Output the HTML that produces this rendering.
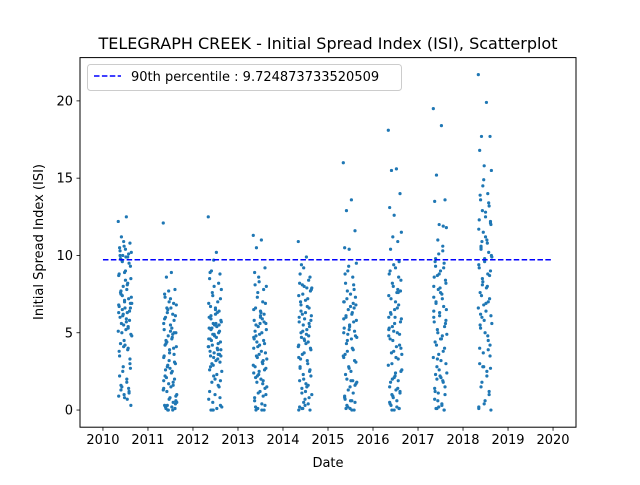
<!DOCTYPE html>
<html><head><meta charset="utf-8"><style>
body{margin:0;background:#fff;font-family:"Liberation Sans","DejaVu Sans",sans-serif}
svg text{font-family:"DejaVu Sans","Liberation Sans",sans-serif;fill:#000}
</style></head><body>
<svg id="chart" width="640" height="480">
<text x="328" y="49" font-size="16" text-anchor="middle">TELEGRAPH CREEK - Initial Spread Index (ISI), Scatterplot</text>
<g id="plot"></g>
<text x="328" y="467" font-size="13" text-anchor="middle">Date</text>
<text transform="translate(43,242) rotate(-90)" font-size="13" text-anchor="middle">Initial Spread Index (ISI)</text>
</svg>
<script>
const xTicks=[2010,2011,2012,2013,2014,2015,2016,2017,2018,2019,2020];
const yTicks=[0,5,10,15,20];
const threshold=9.724873733520509;
const years=[2010,2011,2012,2013,2014,2015,2016,2017,2018];
const fr=[0.34,0.52,0.41,0.60,0.37,0.47,0.63,0.44,0.55,0.39,0.58,0.50,0.36,0.62,0.45,0.53,0.40,0.57,0.48,0.35,0.61,0.43,0.54,0.38,0.59,0.46,0.51,0.42,0.64,0.49,0.56,0.37,0.60,0.44,0.53,0.40,0.58,0.47,0.35,0.62,0.50,0.42,0.55,0.39,0.61,0.45,0.52,0.36,0.57,0.48];
const fr2=[0.46,0.38,0.57,0.43,0.61,0.35,0.50,0.54,0.40,0.63,0.48,0.36,0.59,0.44,0.52,0.41,0.56,0.34,0.62,0.47,0.39,0.55,0.60,0.45,0.37,0.53,0.42,0.58,0.49,0.35,0.64,0.43,0.51,0.38,0.56,0.46,0.61,0.40,0.54,0.48,0.36,0.59,0.44,0.57,0.41,0.50,0.63,0.39,0.53,0.47];
const v2010=[12.2,12.5,11.2,10.8,10.5,10.6,10.2,10.0,9.9,9.8,9.5,9.0,8.8,8.5,8.0,7.8,7.5,7.2,7.0,6.8,6.6,6.5,6.3,6.0,5.8,5.5,5.2,5.0,4.8,4.2,4.0,3.5,3.0,2.5,2.0,1.6,1.2,1.0,0.9,0.3,10.4,9.7,8.2,7.6,6.9,6.2,5.9,3.8,1.4,0.8];
const w2010=[10.9,10.3,10.1,9.6,9.3,8.7,8.4,8.1,7.7,7.3,7.1,6.7,6.4,6.1,5.7,5.6,5.3,5.1,4.9,4.5,4.3,3.9,3.3,2.8,2.2,1.8,1.5,1.1,6.6,6.3,6.9,7.4,9.9,10.0,5.4,4.1,2.7,1.3,0.7,8.9];
const v2011=[12.1,8.9,8.6,7.8,7.5,7.0,6.8,6.5,6.2,6.0,5.8,5.5,5.2,5.0,4.8,4.6,4.3,4.0,3.7,3.4,3.0,2.8,2.5,2.2,2.0,1.7,1.5,1.2,1.0,0.8,0.5,0.3,0.1,0.0,0.2,0.1,5.0,3.2,1.9,0.6,7.2,6.6,4.9,2.6,0.4,0.0];
const w2011=[7.7,7.3,6.9,6.3,6.1,5.6,5.1,4.7,4.5,4.1,3.9,3.5,3.1,2.9,2.4,2.1,1.6,1.3,0.9,0.7,0.2,0.0,0.1,0.0,5.9,5.3,4.4,3.6,2.7,1.4,0.5,0.3,6.6,4.2,1.8];
const v2012=[12.5,10.2,9.0,8.8,8.5,8.0,7.8,7.4,7.0,6.7,6.4,6.2,6.0,5.8,5.6,5.4,5.2,5.0,4.8,4.6,4.4,4.2,4.0,3.8,3.6,3.4,3.2,3.0,2.5,2.0,1.6,1.2,0.8,0.5,0.1,0.0,5.5,4.9,4.1,3.5,6.5,5.3,3.9,2.8,0.3,0.0];
const w2012=[9.7,8.9,8.2,7.6,7.2,6.9,6.6,6.3,5.9,5.7,5.5,5.3,5.1,4.9,4.7,4.5,4.3,4.1,3.9,3.7,3.5,3.3,3.1,2.9,2.6,2.3,1.8,1.5,1.0,0.7,0.2,0.0,5.6,4.6,3.6,2.2,1.9,6.1];
const v2013=[11.3,11.0,10.5,9.2,8.9,8.3,8.0,7.6,7.0,6.6,6.2,6.0,5.8,5.6,5.4,5.0,4.8,4.5,4.2,4.0,3.7,3.4,3.1,2.8,2.6,2.3,2.0,1.8,1.5,1.2,0.9,0.6,0.3,0.1,0.0,0.0,5.7,3.6,2.4,1.0,6.4,4.4,3.0,0.2];
const w2013=[8.6,8.1,7.8,7.3,6.9,6.5,6.1,5.9,5.5,5.2,4.9,4.6,4.3,4.1,3.8,3.5,3.2,2.9,2.7,2.5,2.1,1.7,1.4,1.1,0.8,0.4,0.1,0.0,5.6,4.7,3.3,2.2,6.3,5.1,1.9];
const v2014=[10.9,9.9,9.4,8.6,8.2,8.0,7.8,7.5,7.2,7.0,6.6,6.3,6.0,5.8,5.5,5.2,5.0,4.8,4.5,4.2,4.0,3.6,3.2,2.8,2.5,2.0,1.7,1.4,1.0,0.7,0.4,0.2,0.0,0.1,7.9,6.8,5.6,4.6,3.4,2.2,1.2,0.1];
const w2014=[9.2,8.8,8.4,8.1,7.7,7.4,7.1,6.7,6.4,6.1,5.9,5.7,5.4,5.1,4.9,4.7,4.4,4.1,3.9,3.7,3.3,3.0,2.6,2.3,1.9,1.5,1.1,0.8,0.3,0.0,7.9,6.2,4.3,2.7,1.6,0.5];
const v2015=[16.0,13.6,12.9,11.6,10.5,10.4,9.5,9.0,8.6,8.2,7.8,7.5,7.0,6.8,6.5,6.2,6.0,5.7,5.4,5.0,4.8,4.5,4.0,3.6,3.2,2.8,2.5,2.0,1.8,1.5,1.1,0.8,0.5,0.2,0.0,0.1,6.6,5.2,3.4,1.7,0.6,7.2];
const w2015=[9.3,8.8,8.1,7.7,7.3,7.0,6.7,6.3,6.1,5.8,5.5,5.3,5.1,4.9,4.6,4.3,3.9,3.5,3.1,2.7,2.3,1.9,1.6,1.3,0.9,0.6,0.3,0.0,0.1,5.9,4.7,3.8,1.9,0.7,6.9];
const v2016=[18.1,15.6,15.5,14.0,13.1,12.6,11.5,11.2,10.9,10.4,9.6,9.2,8.8,8.4,8.0,7.6,7.2,6.8,6.5,6.0,5.7,5.4,5.0,4.6,4.2,3.8,3.4,3.0,2.6,2.2,1.9,1.5,1.2,0.9,0.6,0.3,0.1,0.0,5.2,4.0,2.4,1.0,7.8,6.3];
const w2016=[9.4,9.0,8.6,8.2,7.7,7.4,7.0,6.6,6.2,5.9,5.6,5.3,4.9,4.5,4.1,3.7,3.3,2.9,2.5,2.1,1.8,1.4,1.1,0.8,0.5,0.2,0.0,0.1,6.0,4.8,3.6,2.0,1.3,0.4,7.6,5.1];
const v2017=[19.5,18.4,15.2,13.6,13.5,12.0,11.8,11.0,10.3,9.8,9.5,9.0,8.6,8.2,7.8,7.5,7.0,6.7,6.3,6.0,5.6,5.2,4.8,4.4,4.0,3.6,3.2,2.8,2.4,2.2,1.8,1.4,1.0,0.6,0.3,0.1,0.0,8.8,7.3,5.8,4.6,2.0,10.6,9.3];
const w2017=[10.1,9.6,9.2,8.7,8.4,8.0,7.6,7.2,6.9,6.5,6.1,5.7,5.4,5.0,4.6,4.2,3.8,3.4,3.0,2.6,2.3,1.9,1.5,1.1,0.7,0.4,0.1,0.0,7.9,6.4,4.9,3.3,2.1,1.2,11.9,0.2];
const v2018=[21.7,19.9,17.7,17.7,16.8,15.8,15.5,14.5,14.0,13.6,13.2,12.8,12.3,12.0,11.5,11.0,10.6,10.2,9.8,9.4,9.0,8.5,8.0,7.6,7.2,6.8,6.4,6.0,5.6,5.0,4.5,4.0,3.5,2.8,2.2,1.5,1.0,0.4,0.1,0.0,12.5,10.9,8.8,6.2,2.7];
const w2018=[14.9,13.9,13.4,12.9,12.2,11.7,11.2,10.8,10.4,10.0,9.6,9.2,8.7,8.3,7.9,7.4,7.0,6.6,6.1,5.8,5.3,4.8,4.2,3.7,3.0,2.5,1.8,1.2,0.6,0.2,9.9,8.1,6.9,5.5,3.9,2.8,12.1,10.5];
const seriesVals=[v2010,v2011,v2012,v2013,v2014,v2015,v2016,v2017,v2018];
const seriesVals2=[w2010,w2011,w2012,w2013,w2014,w2015,w2016,w2017,w2018];

const L=80,R=576,T=57.6,B=427.2;
const xMin=2009.49,xMax=2020.51,yMin=-1.11,yMax=22.8;
const xs=d=>L+(d-xMin)/(xMax-xMin)*(R-L);
const ys=v=>B-(v-yMin)/(yMax-yMin)*(B-T);
const NS="http://www.w3.org/2000/svg";
const plot=document.getElementById('plot');
function mk(tag,attrs,parent){const e=document.createElementNS(NS,tag);for(const k in attrs)e.setAttribute(k,attrs[k]);(parent||plot).appendChild(e);return e;}

const pts=mk('g',{});


function drawSet(vals,fracs){
  years.forEach((yr,i)=>{
    vals[i].forEach((v,j)=>{
      const c=mk('circle',{cx:xs(yr+fracs[j%fracs.length]),cy:ys(v),r:1.6,fill:'#1f77b4'},pts);
      
      
    });
  });
}
drawSet(seriesVals,fr);
drawSet(seriesVals2,fr2);
const th=mk('line',{x1:xs(2010),x2:xs(2020),y1:ys(threshold),y2:ys(threshold),stroke:'#0000ff','stroke-width':1.5,'stroke-dasharray':'5.5,2.4'});



const frame=mk('rect',{x:L,y:T,width:R-L,height:B-T,fill:'none',stroke:'#000','stroke-width':1});


xTicks.forEach(t=>{
  const x=xs(t);
  mk('line',{x1:x,x2:x,y1:B,y2:B+3.5,stroke:'#000','stroke-width':0.8});
  const tx=mk('text',{x:x,y:B+17,'font-size':13,'text-anchor':'middle'});
  tx.textContent=t;
  
  
});
yTicks.forEach(t=>{
  const y=ys(t);
  mk('line',{x1:L-3.5,x2:L,y1:y,y2:y,stroke:'#000','stroke-width':0.8});
  const tx=mk('text',{x:L-7,y:y+4.5,'font-size':13,'text-anchor':'end'});
  tx.textContent=t;
  
  
});
const lg=mk('g',{});


mk('rect',{x:87.5,y:64.5,width:314,height:26,rx:3,fill:'#fff',stroke:'#ccc'},lg);
mk('line',{x1:94,x2:121,y1:76,y2:76,stroke:'#0000ff','stroke-width':1.5,'stroke-dasharray':'5.5,2.4'},lg);
const lt=mk('text',{x:131,y:81,'font-size':13},lg);
lt.textContent='90th percentile : '+threshold;


</script>
</body></html>
